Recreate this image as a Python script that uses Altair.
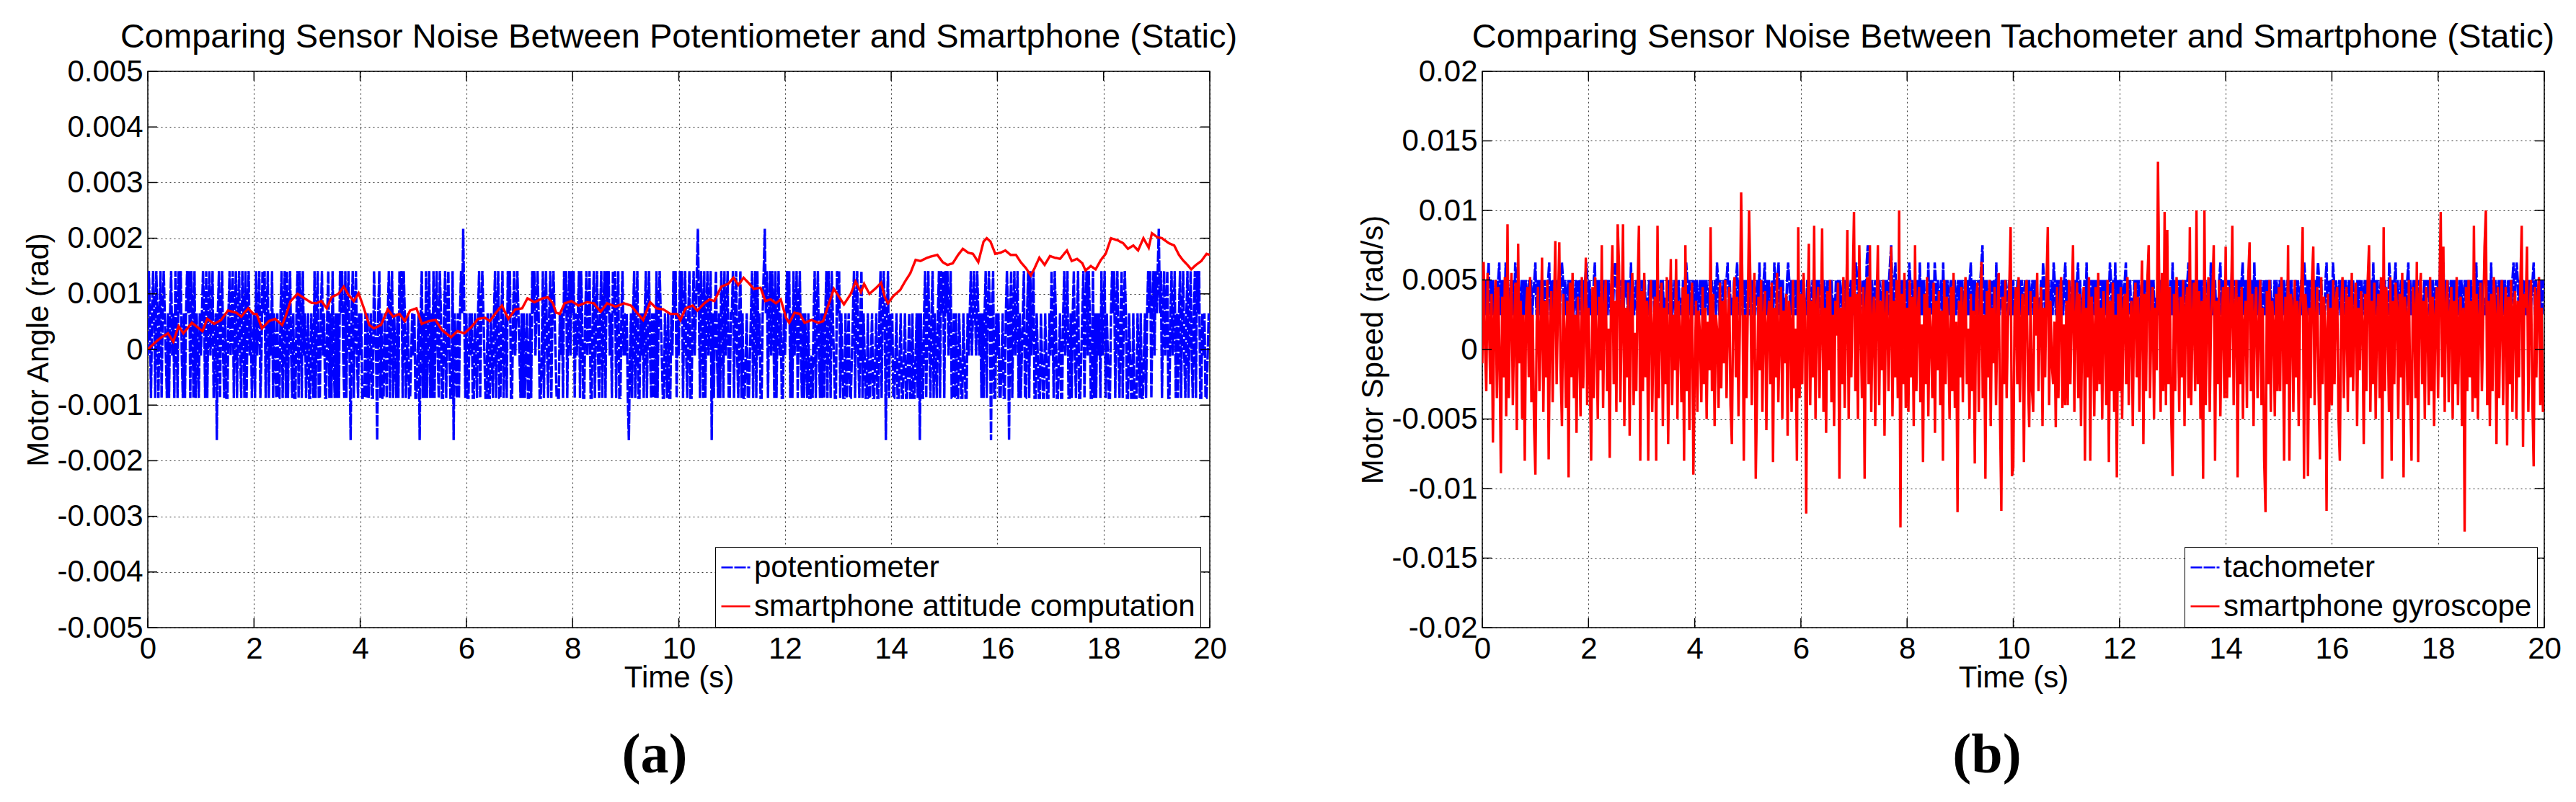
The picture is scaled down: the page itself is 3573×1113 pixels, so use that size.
import altair as alt
import pandas as pd

# ---------------- data ----------------
# Panel (a): potentiometer, quantised levels (rad), one code string per second (50 samples/s)
pot_levels = [-0.00163, -0.00087, -0.00011, 0.00065, 0.00141, 0.00217]
pot_codes = [
    "2431343143" "1341343213" "1342314314" "3421313434" "1431413213",
    "2343141342" "3412303413" "4213113423" "4134134214" "3141342312",
    "3142341243" "4134132413" "2131134134" "1413421311" "3414314231",
    "2311321413" "4113423113" "4131421313" "1434214134" "2034134213",
    "2311131312" "3114320341" "3113213413" "4132131434" "1431231123",
    "2311230341" "3141341314" "1342143113" "4134211403" "2131343531",
    "3113231132" "1341343211" "3113213413" "4113412314" "3411342343",
    "2131312311" "3143423431" "1241342134" "1343211132" "3143413424",
    "3413234143" "1134234113" "4134213413" "4143423143" "4134113423",
    "2310231341" "3411323134" "1342131314" "1343211321" "3113243413",
    "2434134213" "4113423453" "1431413423" "4031342131" "4314234113",
    "3413421341" "3112311234" "1341423113" "4534134243" "1413423113",
    "2343413142" "3413421313" "2131121341" "3421313134" "1431432114",
    "3413211312" "3112341342" "1341321131" "1231123113" "4134303413",
    "2311231123" "1123112311" "3112313031" "1341342134" "1321341434",
    "1434234113" "1311321132" "1132342343" "2432313134" "1343034113",
    "2311231134" "3034134234" "1312341134" "1423411321" "1321132113",
    "2431431123" "1134234113" "1342134112" "3413424311" "4131323142",
    "3413211343" "4134213413" "4311321131" "1132131123" "1343413424",
    "3453413423" "4113423413" "1341342134" "1342134143" "4113231123",
]

# Panel (a): smartphone attitude computation (s, rad)
att_t = [0.0, 0.13, 0.26, 0.38, 0.48, 0.58, 0.67, 0.83, 1.03, 1.12, 1.25, 1.38, 1.51, 1.67, 1.76,
         1.89, 1.99, 2.05, 2.15, 2.28, 2.4, 2.53, 2.6, 2.69, 2.82, 2.95, 3.08, 3.17, 3.27, 3.37,
         3.46, 3.59, 3.69, 3.78, 3.88, 3.97, 4.07, 4.17, 4.26, 4.39, 4.52, 4.62, 4.74, 4.84, 4.94,
         5.06, 5.16, 5.29, 5.42, 5.54, 5.71, 5.83, 5.96, 6.09, 6.22, 6.35, 6.44, 6.54, 6.67, 6.79,
         6.92, 7.05, 7.15, 7.28, 7.44, 7.53, 7.63, 7.69, 7.76, 7.85, 7.98, 8.11, 8.27, 8.4, 8.53,
         8.65, 8.81, 8.97, 9.1, 9.23, 9.33, 9.46, 9.58, 9.71, 9.84, 9.97, 10.03, 10.13, 10.26,
         10.35, 10.48, 10.58, 10.67, 10.8, 10.93, 11.03, 11.12, 11.22, 11.31, 11.41, 11.54, 11.63,
         11.73, 11.83, 11.92, 12.02, 12.08, 12.18, 12.28, 12.37, 12.5, 12.63, 12.72, 12.79, 12.92,
         13.01, 13.11, 13.24, 13.33, 13.43, 13.49, 13.59, 13.72, 13.81, 13.88, 13.94, 14.04, 14.17,
         14.26, 14.36, 14.46, 14.55, 14.68, 14.78, 14.87, 14.97, 15.06, 15.16, 15.26, 15.35, 15.45,
         15.54, 15.64, 15.74, 15.8, 15.87, 15.96, 16.06, 16.15, 16.25, 16.35, 16.44, 16.54, 16.63,
         16.7, 16.79, 16.89, 16.99, 17.08, 17.18, 17.31, 17.4, 17.5, 17.6, 17.66, 17.76, 17.85,
         17.95, 18.04, 18.14, 18.27, 18.37, 18.46, 18.56, 18.65, 18.75, 18.85, 18.91, 19.01, 19.1,
         19.23, 19.33, 19.42, 19.49, 19.58, 19.65, 19.74, 19.84, 19.94, 20.0]
att_v = [0.0, 0.00012, 0.00022, 0.00029, 0.00014, 0.00042, 0.00029, 0.00048, 0.00033, 0.00055,
         0.00046, 0.00053, 0.0007, 0.00066, 0.00059, 0.00074, 0.00064, 0.00064, 0.00038, 0.00051,
         0.00055, 0.00044, 0.00061, 0.00087, 0.001, 0.00092, 0.00084, 0.00083, 0.00087, 0.00074,
         0.00094, 0.001, 0.00113, 0.00098, 0.00087, 0.00101, 0.00074, 0.00044, 0.00038, 0.00044,
         0.00072, 0.00059, 0.00064, 0.00051, 0.0007, 0.00074, 0.00046, 0.00051, 0.00053, 0.00035,
         0.00022, 0.00033, 0.00029, 0.0004, 0.00055, 0.00057, 0.00051, 0.00064, 0.00079, 0.00055,
         0.00072, 0.00074, 0.00092, 0.00085, 0.00092, 0.00094, 0.00083, 0.00066, 0.00064, 0.00083,
         0.00087, 0.00079, 0.00085, 0.00083, 0.00068, 0.00083, 0.00077, 0.00083, 0.00079, 0.00064,
         0.00053, 0.00085, 0.00074, 0.00072, 0.00064, 0.00064, 0.00053, 0.00074, 0.00079, 0.0007,
         0.00083, 0.0009, 0.00087, 0.00113, 0.00118, 0.00129, 0.00116, 0.00129, 0.0012, 0.00109,
         0.00111, 0.00087, 0.0009, 0.00083, 0.0009, 0.00057, 0.00048, 0.00066, 0.00064, 0.00048,
         0.00053, 0.00048, 0.00051, 0.00072, 0.00109, 0.00096, 0.00081, 0.001, 0.00122, 0.00103,
         0.00118, 0.001, 0.00111, 0.0012, 0.00094, 0.00083, 0.00096, 0.00107, 0.00122, 0.00137,
         0.00161, 0.00159, 0.00165, 0.00168, 0.0017, 0.00157, 0.00152, 0.00155, 0.0017, 0.00181,
         0.00174, 0.00172, 0.00157, 0.00194, 0.002, 0.00194, 0.00172, 0.00174, 0.00178, 0.0017,
         0.0017, 0.00157, 0.00146, 0.00133, 0.00146, 0.00165, 0.00152, 0.00168, 0.00165, 0.00163,
         0.00178, 0.00159, 0.00163, 0.00155, 0.00142, 0.0015, 0.00144, 0.00161, 0.00172, 0.002,
         0.00196, 0.00191, 0.00181, 0.00187, 0.00178, 0.002, 0.00183, 0.00209, 0.00202, 0.002,
         0.00191, 0.00187, 0.0017, 0.00161, 0.00152, 0.00144, 0.00152, 0.00159, 0.00172, 0.0017]

# Panel (b): tachometer, quantised levels (rad/s), one code string per second (50 samples/s)
tach_levels = [0.00247, 0.00373, 0.005, 0.00625, 0.0075]
tach_codes = [
    "02020230202012023020203020120203202012020210202012",
    "30202012020123020210202023202012020201202021020232",
    "02010230202012020202102023201020202120203020120202",
    "02020102021202021020201020202012020201020232020120",
    "20201202020210202012032020120223020102023020212020",
    "02012020120302023020201203202302020102320201202020",
    "20201020201202020210202012020201020202102020201202",
    "02320201202034020201202021020202023420230201202020",
    "20320201202030202010302020320201203020201202020120",
    "20201202023020201202340202012020203020120202102020",
    "20102020201202020120202010203202020120320202012023",
    "02020120202302010203020212020201202020201320203020",
    "20201230202010202020120202012020201020201202021020",
    "30201202020120232020201202020202012030202010230202",
    "20202030201202023020201202030202020120202020102020",
    "12020201202020102020120232020201202023202010230202",
    "03202012020202012020201020202012020302030202012020",
    "20103202023020120202023020120202020102021202020120",
    "20302302020120202010202012020202012030202020102020",
    "30202012020202012020230232020120202020123020120202",
]

# Panel (b): smartphone gyroscope, 40 samples/s, units of 1e-4 rad/s
gyro_e4 = [
    [-10, 63, 5, -30, 55, 20, -25, 40, -67, 22, 50, -35, 45, -5, -89, 38, -20, 52, -48, 90,
     -35, 28, 55, -40, 15, 48, -58, 76, -10, 35, -50, 25, -80, 30, 45, -20, 52, -38, 25, -55],
    [-90, 20, 45, -30, 10, 66, -45, 35, -20, 50, -79, 15, 42, -38, 28, 78, -25, 30, 77, -15,
     -55, 40, 12, -42, 35, -92, 48, -20, 55, -35, 25, -60, 38, 5, -48, 52, -28, 18, 66, -40],
    [30, -20, -80, 45, -35, 52, 10, -50, 38, -15, 75, -42, 28, 50, -30, 15, -78, 40, 75, -25,
     35, -45, 90, 60, -38, 20, 90, -55, 30, -20, 48, -62, 25, 55, -40, 12, -30, 45, 89, -80],
    [42, -30, 55, -20, 35, -80, 28, 50, -45, 15, 38, -80, 89, -35, 20, 48, -55, 30, -25, 52,
     -68, 10, 65, -40, 25, -15, 65, -50, 35, 12, -38, 45, -80, 75, -30, 40, -58, 20, 48, -90],
    [-20, 35, -45, 28, 10, -38, 45, -25, 30, -50, 20, -15, 88, -30, 40, -55, 25, 12, -42, 48,
     -28, 35, -10, 50, -35, 22, 45, -40, -68, 30, 52, -20, 38, -48, 15, 113, 40, -80, 25, -35],
    [30, 100, 45, -40, 20, 55, -93, -30, 38, -15, 50, -45, 25, 42, -58, 18, 35, -25, 48, -81,
     30, -20, 55, -38, 12, 45, -50, 28, -10, 40, -62, 35, 20, -45, 50, -28, 15, -80, 88, -35],
    [40, -25, 55, 30, -118, 20, 76, -40, 35, -20, 89, -50, 28, 45, -35, 15, 87, -45, 30, -60,
     42, -15, 50, -38, 25, -55, 35, 10, 48, -93, 30, -25, 52, -42, 20, 86, -50, 38, -20, 45],
    [99, -30, 40, -50, 75, 20, -35, 45, -93, 30, 52, -25, 75, -45, 20, 38, -55, 28, 75, -40,
     35, -15, 50, -62, 25, 42, -30, 15, 74, -48, 35, -20, 50, -35, 100, -128, 40, -25, 55, -42],
    [30, -45, 50, -20, 38, -55, 75, -30, 25, 45, -38, 18, -81, 40, -25, 52, -48, 30, 12, -35,
     48, -60, 35, -15, 42, -40, 28, -80, 50, -25, 38, 10, -50, 45, -30, 55, -42, 20, -117, 35],
    [-20, 45, -38, 30, 52, -25, 15, -50, 40, -30, 28, -82, 35, 48, -45, 20, 63, -35, 25, -93,
     42, -20, 50, -55, 30, -10, 45, -40, 22, 55, -48, -116, 38, -25, 50, -35, 20, 45, 88, -91],
    [-85, 30, 45, -25, 52, -38, 20, 40, -81, 35, 50, -20, -56, 42, -28, -45, 38, 10, 55, -30,
     25, 45, -55, 30, -20, 48, 88, -40, 35, -10, -25, 20, -56, 45, -35, 30, 52, -42, 18, -40],
    [35, -40, 50, -25, 30, 75, -45, 20, 48, -35, 40, -55, 25, 45, -80, 30, -20, 52, -80, 38,
     15, -48, 45, -30, 55, -25, 30, -50, 42, 18, -40, 50, -81, 35, -30, 48, -45, 25, -92, 40],
    [-30, 45, -50, 28, 40, -25, 52, -40, 20, 35, -55, 30, 48, -20, 38, -45, 25, 64, -68, 40,
     -30, 50, 75, -35, 20, 45, -50, 30, -15, 135, 40, -45, 55, -30, 99, -40, 86, -25, 45, -50],
    [-91, 40, -30, 52, 25, -45, 38, -20, 50, -55, 30, 45, -35, 88, -40, 20, 48, -30, 100, -25,
     42, -50, 35, -93, 100, -40, 30, 52, -45, 25, 40, 75, -80, 35, -25, 50, -48, 20, 45, -35],
    [74, -35, 45, -20, 30, 89, -40, 25, 50, -92, 38, -25, 45, -50, 20, 35, -42, 52, 77, -30,
     40, -55, 28, 45, -35, 15, 50, -40, 30, -80, -117, 42, -25, 50, -45, 35, 20, -48, 40, -30],
    [45, -30, 52, 20, -80, 38, -25, 75, -80, 40, 30, -45, 50, -20, 35, -55, 28, 45, 88, -93,
     40, 25, -91, 30, -35, 50, 74, -40, 20, 45, -30, -79, 52, -25, 38, 15, -116, 40, -45, 30],
    [-40, 50, -25, 35, 45, -50, -80, 30, 52, -35, 20, 45, -45, 38, -20, 55, -30, 25, 48, -55,
     30, -15, 42, 20, -68, 40, -30, 50, 75, -45, 35, -25, 48, -50, 22, 40, -35, 52, -93, 88],
    [-30, 45, 20, -45, 52, -80, 35, -25, 48, 30, -50, 40, -20, 55, -92, 38, 25, -40, 50, -30,
     -80, 45, 30, -35, 63, -81, 40, 55, -25, 35, -50, 45, 20, -40, 52, -30, 38, -55, 25, 45],
    [-35, 40, 99, -20, 74, -45, 30, 50, -38, 25, 45, -50, 35, -25, 52, -40, 20, 38, -55, 30,
     -131, 45, -30, 50, -20, 35, -45, 89, -35, 40, -50, 25, 48, -30, 20, 74, 100, -40, 35, -55],
    [40, -30, 52, 25, -68, 45, -35, 30, 50, -40, 20, 45, -69, 38, -25, 50, -45, 30, 42, -50,
     35, -20, 48, 89, -70, 40, 30, 74, -45, 25, 50, -35, -84, 45, -20, 38, 52, -40, 30, -45],
]

x_ticks = [0, 2, 4, 6, 8, 10, 12, 14, 16, 18, 20]
y_ticks_a = [-0.005, -0.004, -0.003, -0.002, -0.001, 0.0, 0.001, 0.002, 0.003, 0.004, 0.005]
y_ticks_b = [-0.02, -0.015, -0.01, -0.005, 0.0, 0.005, 0.01, 0.015, 0.02]

names_a = ["potentiometer", "smartphone attitude computation"]
names_b = ["tachometer", "smartphone gyroscope"]
titles = ["Comparing Sensor Noise Between Potentiometer and Smartphone (Static)",
          "Comparing Sensor Noise Between Tachometer and Smartphone (Static)"]
ylabels = ["Motor Angle (rad)", "Motor Speed (rad/s)"]
tags = ["(a)", "(b)"]

# ---------------- tables ----------------
def coded(codes, levels, dt, name):
    vals = [levels[int(c)] for s in codes for c in s]
    return pd.DataFrame({"t": [i * dt for i in range(len(vals))], "v": vals, "series": name})

pot_df = coded(pot_codes, pot_levels, 0.02, names_a[0])
att_df = pd.DataFrame({"t": att_t, "v": att_v, "series": names_a[1]})
tach_df = coded(tach_codes, tach_levels, 0.02, names_b[0])
gyro_vals = [g * 1e-4 for row in gyro_e4 for g in row]
gyro_df = pd.DataFrame({"t": [i * 0.025 for i in range(len(gyro_vals))], "v": gyro_vals,
                        "series": names_b[1]})

W, H = 1473, 772
FONT = "Liberation Sans"
TICK = 13


def panel(title, ylabel, blue, red, names, yticks, legend_x, tag, tag_x):
    xs = alt.Scale(domain=[0, 20], nice=False, zero=False)
    ys = alt.Scale(domain=[yticks[0], yticks[-1]], nice=False, zero=False)
    leg = alt.Legend(title=None, orient="none", legendX=legend_x, legendY=660,
                     direction="vertical", symbolType="stroke", symbolSize=1600,
                     symbolStrokeWidth=2.5, labelFont=FONT, labelFontSize=42,
                     labelColor="black", labelOffset=4, labelLimit=0, padding=7,
                     rowPadding=11, strokeColor="black", fillColor="white")
    color = alt.Color("series:N", scale=alt.Scale(domain=names, range=["#0000ff", "#ff0000"]),
                      legend=leg)
    dash = alt.StrokeDash("series:N", scale=alt.Scale(domain=names, range=[[16, 2], [1, 0]]),
                          legend=leg)
    xaxis = alt.Axis(values=x_ticks, grid=True, gridDash=[2, 4], gridColor="black",
                     gridOpacity=0.8, gridWidth=1.1, ticks=False, domain=False,
                     labelFont=FONT, labelFontSize=42, labelColor="black", labelPadding=9,
                     labelFlush=False, title="Time (s)", titleFont=FONT, titleFontSize=42,
                     titleFontWeight="normal", titleColor="black",
                     titleBaseline="alphabetic", titleY=82)
    yaxis = alt.Axis(values=yticks, grid=True, gridDash=[2, 4], gridColor="black",
                     gridOpacity=0.8, gridWidth=1.1, ticks=False, domain=False,
                     labelFont=FONT, labelFontSize=42, labelColor="black", labelPadding=7,
                     labelFlush=False,
                     labelExpr="datum.value == 0 ? '0' : (datum.value < 0 ? '-' : '') + format(abs(datum.value), '~g')",
                     title=ylabel, titleFont=FONT, titleFontSize=42, titleFontWeight="normal",
                     titleColor="black", titleX=-152, titleY=H / 2, titleAngle=270,
                     titleBaseline="middle", titleAlign="center")
    x = alt.X("t:Q", scale=xs, axis=xaxis, title="Time (s)")
    y = alt.Y("v:Q", scale=ys, axis=yaxis, title=ylabel)

    blue_l = alt.Chart(blue).mark_line(strokeWidth=3.4, clip=True).encode(
        x=x, y=y, color=color, strokeDash=dash)
    red_l = alt.Chart(red).mark_line(strokeWidth=3.4, clip=True).encode(
        x=x, y=y, color=color, strokeDash=dash)

    xt = pd.DataFrame({"t": x_ticks})
    yt = pd.DataFrame({"v": yticks})
    rule = dict(color="black", strokeWidth=1.5)
    tb = alt.Chart(xt).mark_rule(**rule).encode(x=x, y=alt.value(H - TICK), y2=alt.value(H))
    tt = alt.Chart(xt).mark_rule(**rule).encode(x=x, y=alt.value(0), y2=alt.value(TICK))
    tl = alt.Chart(yt).mark_rule(**rule).encode(y=y, x=alt.value(0), x2=alt.value(TICK))
    tr = alt.Chart(yt).mark_rule(**rule).encode(y=y, x=alt.value(W - TICK), x2=alt.value(W))

    title_c = alt.Chart(pd.DataFrame({"title": [title]})).mark_text(
        font=FONT, fontSize=47, color="black", align="center", baseline="alphabetic").encode(
        text="title:N", x=alt.value(W / 2), y=alt.value(-33))

    tag_c = alt.Chart(pd.DataFrame({"tag": [tag]})).mark_text(
        font="Liberation Serif", fontSize=78, fontWeight="bold", color="black",
        align="center", baseline="middle").encode(
        text="tag:N", x=alt.value(tag_x), y=alt.value(950))

    return alt.layer(blue_l, red_l, tb, tt, tl, tr, title_c, tag_c).properties(
        width=W, height=H)


pa = panel(titles[0], ylabels[0], pot_df, att_df, names_a, y_ticks_a, 787, tags[0], 703)
pb = panel(titles[1], ylabels[1], tach_df, gyro_df, names_b, y_ticks_b, 974, tags[1], 700)

chart = alt.hconcat(pa, pb, spacing=378, bounds="flush").resolve_scale(
    x="independent", y="independent", color="independent", strokeDash="independent"
).resolve_legend(color="independent", strokeDash="independent").properties(
    padding={"left": 23, "top": 19, "right": 5, "bottom": 5}
).configure_view(stroke="black", strokeWidth=1.5)

chart.save("out.html", embed_options={"renderer": "svg", "actions": False})
